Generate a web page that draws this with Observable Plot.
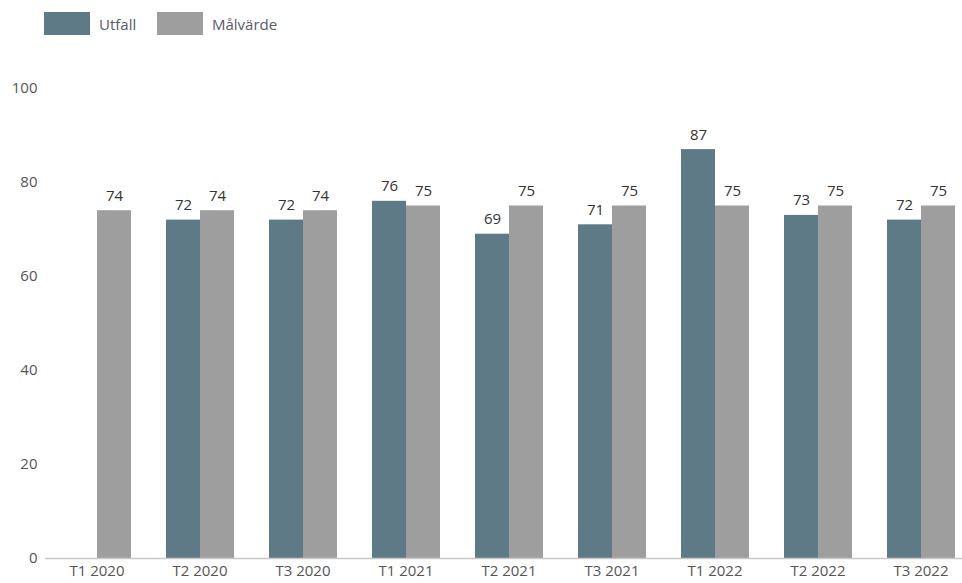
<!DOCTYPE html>
<html>
<head>
<meta charset="utf-8">
<script src="https://cdn.jsdelivr.net/npm/d3@7"></script>
<script src="https://cdn.jsdelivr.net/npm/@observablehq/plot@0.6"></script>
<style>
  html, body { margin: 0; padding: 0; background: #fff; }
  body { width: 962px; height: 583px; overflow: hidden; font-family: "Open Sans", sans-serif; }
  .legend { height: 50px; position: relative; }
  .item { position: absolute; top: 12px; display: flex; align-items: center; }
  .sw { width: 46px; height: 23px; display: inline-block; }
  .lbl { margin-left: 9px; font-size: 15px; color: #5a5a6a; }
</style>
</head>
<body>
<div class="legend" id="legend"></div>
<div id="chart"></div>
<script>
const categories = ["T1 2020","T2 2020","T3 2020","T1 2021","T2 2021","T3 2021","T1 2022","T2 2022","T3 2022"];
const utfall   = [null, 72, 72, 76, 69, 71, 87, 73, 72];
const malvarde = [74, 74, 74, 75, 75, 75, 75, 75, 75];
const series = ["Utfall", "Målvärde"];
const colors = ["#5f7a87", "#9e9e9e"];
const yTicks = [0, 20, 40, 60, 80, 100];

const rows = categories.flatMap((c, i) => [
  {cat: c, series: series[0], value: utfall[i]},
  {cat: c, series: series[1], value: malvarde[i]}
]).filter(d => d.value != null);

// legend
const legend = document.getElementById("legend");
const lefts = [44, 157];
series.forEach((s, i) => {
  const it = document.createElement("div");
  it.className = "item";
  it.style.left = lefts[i] + "px";
  it.innerHTML = `<span class="sw" style="background:${colors[i]}"></span><span class="lbl">${s}</span>`;
  legend.appendChild(it);
});

const chart = Plot.plot({
  width: 962,
  height: 533,
  marginLeft: 45,
  marginRight: -10,
  marginTop: 38,
  marginBottom: 25,
  style: {fontFamily: "Open Sans, sans-serif", fontSize: "15px", color: "#555", background: "#fff", overflow: "hidden"},
  fx: {domain: categories, padding: 0, label: null},
  x: {domain: series, paddingInner: 0, paddingOuter: 0.49, axis: null},
  y: {domain: [0, 100], label: null},
  color: {domain: series, range: colors},
  marks: [
    Plot.axisY({ticks: yTicks, tickSize: 0, tickPadding: 8, label: null, fill: "#555", fontSize: 15}),
    Plot.axisFx({anchor: "bottom", tickSize: 0, tickPadding: 7, label: null, fill: "#555", fontSize: 15}),
    Plot.barY(rows, {fx: "cat", x: "series", y: "value", fill: "series"}),
    Plot.ruleY([0], {stroke: "#c8c8c8", strokeWidth: 1.5}),
    Plot.text(rows, {fx: "cat", x: "series", y: "value", text: d => String(d.value), dy: -10, lineAnchor: "bottom", fill: "#333", fontSize: 15})
  ]
});
document.getElementById("chart").appendChild(chart);
</script>
</body>
</html>
